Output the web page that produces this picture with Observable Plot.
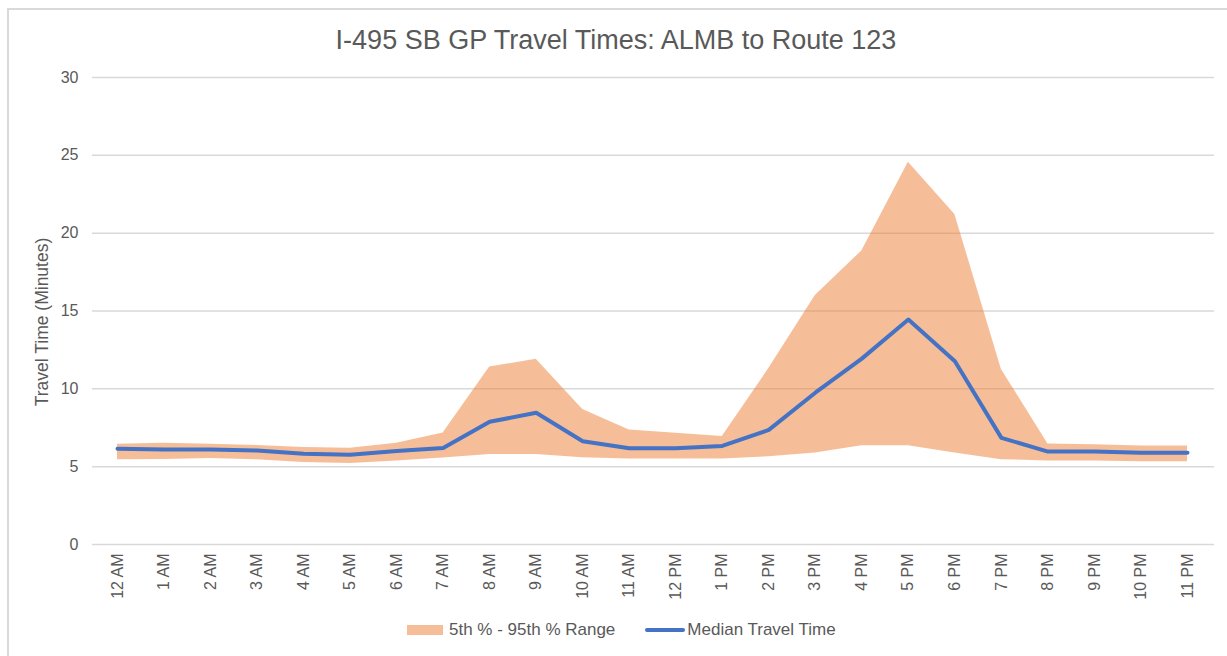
<!DOCTYPE html>
<html>
<head>
<meta charset="utf-8">
<script src="https://cdn.jsdelivr.net/npm/d3@7"></script>
<script src="https://cdn.jsdelivr.net/npm/@observablehq/plot@0.6"></script>
<style>
  body { margin: 0; background: #fff; font-family: "Liberation Sans", Arial, sans-serif; color: #595959; width: 1227px; height: 656px; overflow: hidden; position: relative; }
  #frame { position: absolute; left: 7px; top: 8px; width: 1250px; height: 700px; border: 2px solid #d9d9d9; box-sizing: border-box; }
  #title { position: absolute; left: 0; width: 1232px; top: 24px; text-align: center; font-size: 27px; line-height: 32px; }
  #chart { position: absolute; left: 0; top: 60px; }
  #legend { position: absolute; left: 407px; top: 620px; display: flex; align-items: center; font-size: 17px; line-height: 20px; }
  .sw-area { width: 36px; height: 10px; background: #ED7D31; opacity: 0.5; margin-right: 6px; }
  .sw-line { width: 40px; height: 4px; background: #4472C4; border-radius: 2px; margin-right: 2px; margin-left: 30px; }
</style>
</head>
<body>
<div id="frame"></div>
<div id="title">I-495 SB GP Travel Times: ALMB to Route 123</div>
<div id="chart"></div>
<div id="legend">
  <div class="sw-area"></div><span>5th % - 95th % Range</span>
  <div class="sw-line"></div><span>Median Travel Time</span>
</div>
<script>
const hours = ["12 AM","1 AM","2 AM","3 AM","4 AM","5 AM","6 AM","7 AM","8 AM","9 AM","10 AM","11 AM",
               "12 PM","1 PM","2 PM","3 PM","4 PM","5 PM","6 PM","7 PM","8 PM","9 PM","10 PM","11 PM"];
const p5 =     [5.44, 5.46, 5.52, 5.44, 5.27, 5.2, 5.37, 5.55, 5.78, 5.78, 5.57, 5.49,
                5.49, 5.49, 5.64, 5.88, 6.35, 6.35, 5.88, 5.45, 5.37, 5.37, 5.32, 5.32];
const p95 =    [6.44, 6.5, 6.44, 6.36, 6.23, 6.19, 6.5, 7.17, 11.4, 11.9, 8.67, 7.36,
                7.15, 6.93, 11.3, 16.0, 18.86, 24.55, 21.2, 11.25, 6.46, 6.4, 6.33, 6.33];
const median = [6.15, 6.1, 6.1, 6.04, 5.83, 5.77, 6.0, 6.2, 7.88, 8.46, 6.63, 6.18,
                6.18, 6.33, 7.36, 9.75, 11.94, 14.45, 11.77, 6.85, 5.97, 5.97, 5.9, 5.9];
const yTicks = [0, 5, 10, 15, 20, 25, 30];
const yLabel = "Travel Time (Minutes)";

const data = hours.map((h, i) => ({hour: h, low: p5[i], high: p95[i], median: median[i]}));

const chart = Plot.plot({
  width: 1227,
  height: 550,
  marginLeft: 117,
  marginRight: 40,
  marginTop: 17,
  marginBottom: 66,
  style: {fontFamily: "Liberation Sans, Arial, sans-serif", fontSize: "17px", color: "#595959", background: "transparent", overflow: "visible"},
  x: {type: "point", domain: hours, padding: 0, round: false},
  y: {domain: [0, 30]},
  marks: [
    Plot.ruleY(yTicks, {stroke: "#d9d9d9", strokeWidth: 1.5, insetLeft: -25, insetRight: -27}),
    Plot.areaY(data, {x: "hour", y1: "low", y2: "high", fill: "#ED7D31", fillOpacity: 0.5}),
    Plot.lineY(data, {x: "hour", y: "median", stroke: "#4472C4", strokeWidth: 4, strokeLinejoin: "round", strokeLinecap: "round"}),
    Plot.axisX({tickRotate: -90, tickSize: 0, tickPadding: 9, label: null, fontSize: 16, style: "letter-spacing:0.6px"}),
    Plot.axisY({ticks: yTicks, tickSize: 0, tickPadding: 39, fontSize: 16, label: null}),
    Plot.text([yLabel], {frameAnchor: "left", textAnchor: "middle", rotate: -90, dx: -75, dy: 11, fontSize: 17.5, fill: "#595959"})
  ]
});
document.getElementById("chart").appendChild(chart);
</script>
</body>
</html>
